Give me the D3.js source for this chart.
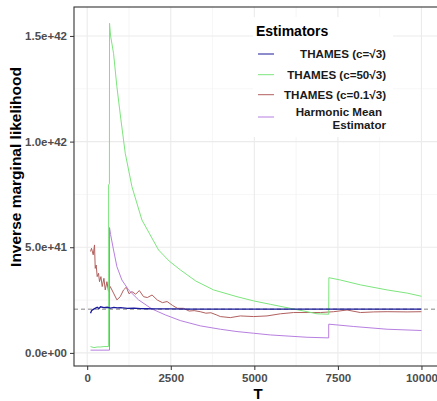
<!DOCTYPE html>
<html>
<head>
<meta charset="utf-8">
<script src="https://cdn.jsdelivr.net/npm/d3@7"></script>
<style>
  body { margin: 0; background: #fff; }
  svg { font-family: "Liberation Sans", Arial, sans-serif; }
</style>
</head>
<body>
<svg width="437" height="401"></svg>
<script>
// values are in units of 1e42
const yTicks = [0, 0.5, 1.0, 1.5];
const yTickLabels = ['0.0e+00', '5.0e+41', '1.0e+42', '1.5e+42'];
const xTicks = [0, 2500, 5000, 7500, 10000];
const trueValue = 0.207;

const seriesNames = ['THAMES (c=\u221A3)', 'THAMES (c=50\u221A3)', 'THAMES (c=0.1\u221A3)', 'Harmonic Mean|Estimator'];

const blueT = [100, 130, 170, 250, 300, 350, 400, 500, 600, 700, 800, 900, 1000, 1200, 1400, 1600, 1800, 2000, 2500, 3000, 4000, 5000, 7000, 10000];
const blueV = [0.188, 0.200, 0.205, 0.212, 0.216, 0.210, 0.218, 0.214, 0.216, 0.212, 0.215, 0.213, 0.214, 0.211, 0.212, 0.210, 0.209, 0.208, 0.208, 0.207, 0.207, 0.207, 0.207, 0.207];

const greenT = [100, 200, 300, 400, 500, 640, 640, 665, 668, 700, 788, 888, 1009, 1138, 1338, 1637, 2135, 2450, 2784, 3250, 3782, 4481, 4980, 5479, 5978, 6577, 6876, 7225, 7230, 7575, 8174, 8972, 9571, 10000];
const greenV = [0.030, 0.025, 0.028, 0.028, 0.030, 0.030, 0.795, 0.800, 1.560, 1.500, 1.418, 1.260, 1.103, 0.945, 0.787, 0.629, 0.487, 0.435, 0.393, 0.340, 0.298, 0.266, 0.246, 0.230, 0.214, 0.195, 0.185, 0.183, 0.356, 0.345, 0.322, 0.298, 0.283, 0.268];

const redT = [100, 129, 180, 219, 240, 269, 299, 338, 368, 410, 449, 500, 539, 590, 638, 689, 788, 889, 988, 1087, 1170, 1250, 1338, 1450, 1560, 1686, 1800, 1940, 2100, 2250, 2390, 2550, 2700, 2880, 3050, 3200, 3380, 3550, 3700, 3880, 3982, 4281, 4581, 4980, 5380, 5778, 6177, 6577, 6976, 7375, 7774, 8174, 8573, 8972, 9571, 10000];
const redV = [0.480, 0.495, 0.464, 0.511, 0.400, 0.416, 0.361, 0.377, 0.337, 0.361, 0.314, 0.353, 0.298, 0.337, 0.290, 0.314, 0.283, 0.251, 0.266, 0.298, 0.311, 0.280, 0.290, 0.278, 0.295, 0.266, 0.262, 0.274, 0.250, 0.238, 0.243, 0.225, 0.211, 0.211, 0.198, 0.200, 0.195, 0.188, 0.190, 0.179, 0.172, 0.167, 0.175, 0.172, 0.175, 0.185, 0.191, 0.191, 0.191, 0.195, 0.203, 0.191, 0.194, 0.195, 0.194, 0.195];

const purpleT = [100, 668, 668, 700, 788, 889, 1038, 1237, 1536, 1936, 2335, 2784, 3383, 3982, 4481, 4980, 5479, 5978, 6577, 7225, 7226, 7974, 8972, 10000];
const purpleV = [0.013, 0.013, 0.593, 0.560, 0.487, 0.408, 0.345, 0.298, 0.251, 0.208, 0.180, 0.153, 0.128, 0.112, 0.101, 0.093, 0.085, 0.080, 0.074, 0.071, 0.136, 0.125, 0.112, 0.106];

const colors = ['#1a1a9c', '#7de57d', '#b0605e', '#b77fe0'];

const svg = d3.select('svg');
const panel = { left: 74, right: 438, top: 7, bottom: 366 };

const x = d3.scaleLinear().domain([-395, 10495]).range([panel.left, panel.right]);
const y = d3.scaleLinear().domain([-0.062, 1.637]).range([panel.bottom, panel.top]);

// grid
const grid = svg.append('g');
const xMinor = xTicks.slice(0, -1).map(d => d + 1250);
const yMinor = yTicks.map(d => d + 0.25);
grid.selectAll('.xminor').data(xMinor).enter().append('line')
  .attr('x1', d => x(d)).attr('x2', d => x(d))
  .attr('y1', panel.top).attr('y2', panel.bottom)
  .attr('stroke', '#f0f0f0').attr('stroke-width', 0.6);
grid.selectAll('.yminor').data(yMinor).enter().append('line')
  .attr('y1', d => y(d)).attr('y2', d => y(d))
  .attr('x1', panel.left).attr('x2', panel.right)
  .attr('stroke', '#f0f0f0').attr('stroke-width', 0.6);
grid.selectAll('.xmajor').data(xTicks).enter().append('line')
  .attr('x1', d => x(d)).attr('x2', d => x(d))
  .attr('y1', panel.top).attr('y2', panel.bottom)
  .attr('stroke', '#ebebeb').attr('stroke-width', 1.1);
grid.selectAll('.ymajor').data(yTicks).enter().append('line')
  .attr('y1', d => y(d)).attr('y2', d => y(d))
  .attr('x1', panel.left).attr('x2', panel.right)
  .attr('stroke', '#ebebeb').attr('stroke-width', 1.1);

// reference value
svg.append('line')
  .attr('x1', panel.left).attr('x2', panel.right)
  .attr('y1', y(trueValue)).attr('y2', y(trueValue))
  .attr('stroke', '#666').attr('stroke-width', 0.8)
  .attr('stroke-dasharray', '4,3');

const line = d3.line().x(d => x(d[0])).y(d => y(d[1]));
const series = [
  d3.zip(redT, redV),
  d3.zip(greenT, greenV),
  d3.zip(purpleT, purpleV),
  d3.zip(blueT, blueV)
];
const seriesColors = [colors[2], colors[1], colors[3], colors[0]];
series.forEach((s, i) => {
  svg.append('path')
    .datum(s)
    .attr('d', line)
    .attr('fill', 'none')
    .attr('stroke', seriesColors[i])
    .attr('stroke-width', i == 3 ? 1.3 : 1);
});

// border
svg.append('rect')
  .attr('x', panel.left).attr('y', panel.top)
  .attr('width', panel.right - panel.left).attr('height', panel.bottom - panel.top)
  .attr('fill', 'none').attr('stroke', '#333').attr('stroke-width', 1.1);

// axes
const yAxis = svg.append('g')
  .attr('transform', `translate(${panel.left},0)`)
  .call(d3.axisLeft(y).tickValues(yTicks).tickFormat((d, i) => yTickLabels[i]).tickSize(4).tickPadding(3));
const xAxis = svg.append('g')
  .attr('transform', `translate(0,${panel.bottom})`)
  .call(d3.axisBottom(x).tickValues(xTicks).tickFormat(d3.format('d')).tickSize(4).tickPadding(4));
[xAxis, yAxis].forEach(a => {
  a.select('.domain').remove();
  a.selectAll('.tick line').attr('stroke', '#333');
  a.selectAll('.tick text')
    .attr('fill', '#4d4d4d')
    .attr('font-size', 11.5)
    .attr('font-weight', 'bold')
    .attr('font-family', '"Liberation Sans", Arial, sans-serif');
});

svg.append('text')
  .attr('x', 258).attr('y', 399)
  .attr('text-anchor', 'middle')
  .attr('font-size', 15).attr('font-weight', 'bold')
  .text('T');

svg.append('text')
  .attr('transform', 'translate(21,167) rotate(-90)')
  .attr('text-anchor', 'middle')
  .attr('font-size', 15.5).attr('font-weight', 'bold')
  .text('Inverse marginal likelihood');

// legend
const legend = svg.append('g');
legend.append('rect')
  .attr('x', 253).attr('y', 17).attr('width', 140).attr('height', 120)
  .attr('fill', '#fff');
legend.append('text')
  .attr('x', 256).attr('y', 36)
  .attr('font-size', 14).attr('font-weight', 'bold')
  .text('Estimators');
const keyY = [54, 74.7, 94.7, 117];
seriesNames.forEach((name, i) => {
  legend.append('line')
    .attr('x1', 258).attr('x2', 274)
    .attr('y1', keyY[i]).attr('y2', keyY[i])
    .attr('stroke', colors[i]).attr('stroke-width', 1);
  const parts = name.split('|');
  const t = legend.append('text')
    .attr('x', 386)
    .attr('text-anchor', 'end')
    .attr('font-size', 11.6).attr('font-weight', 'bold')
    .attr('fill', '#1a1a1a');
  if (parts.length == 1) {
    t.attr('y', keyY[i] + 4).text(parts[0]);
  } else {
    t.append('tspan').attr('x', 382).attr('y', 116).text(parts[0]);
    t.append('tspan').attr('x', 386).attr('y', 129).text(parts[1]);
  }
});
</script>
</body>
</html>
